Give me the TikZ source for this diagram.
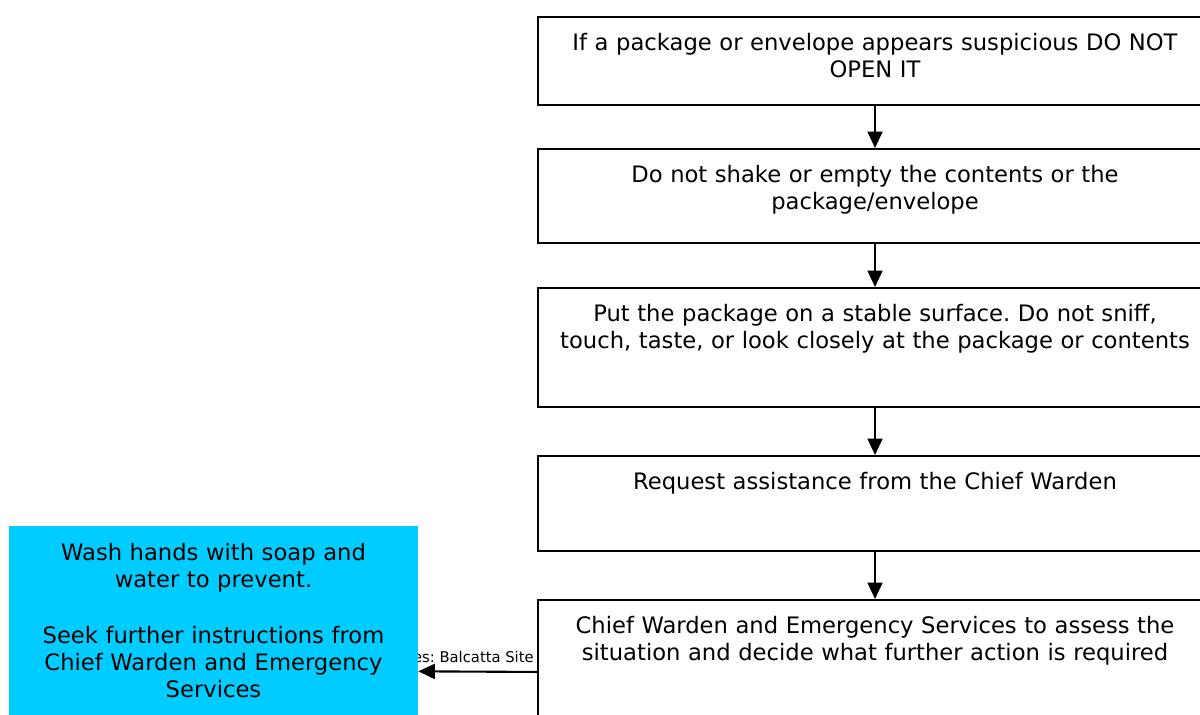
\documentclass[tikz,border=0pt]{standalone}
\usepackage{fontspec}
\setmainfont{DejaVu Sans}
\usetikzlibrary{arrows.meta}
\definecolor{washcyan}{HTML}{00CCFF}
\frenchspacing
\begin{document}
\begin{tikzpicture}[x=0.02cm, y=-0.02cm,
        stepbox/.style={draw, line width=1.1pt, anchor=north, inner xsep=0pt, inner ysep=0pt,
            text width=13.48cm, align=center, text height=0.68cm,
            font=\fontsize{12.9pt}{15.3pt}\selectfont},
        washbox/.style={fill=washcyan, anchor=north, inner xsep=0pt, inner ysep=0pt,
            text width=8.18cm, align=center, text height=0.68cm,
            font=\fontsize{12.9pt}{15.3pt}\selectfont},
        flow/.style={line width=1.2pt, -{Triangle[length=0.33cm, width=0.3cm]}}]
        \useasboundingbox (0,0) rectangle (1200,714);
        \node[stepbox, text depth=1.08cm] (open) at (875,16) {If a package or envelope appears suspicious DO NOT\\ OPEN IT};
        \node[stepbox, text depth=1.2cm] (shake) at (875,148) {Do not shake or empty the contents or the\\ package/envelope};
        \node[stepbox, text depth=1.7cm] (surface) at (875,287) {Put the package on a stable surface. Do not sniff,\\ touch, taste, or look closely at the package or contents};
        \node[stepbox, text depth=1.22cm] (warden) at (875,455) {Request assistance from the Chief Warden};
        \node[stepbox, text depth=2.2cm] (assess) at (875,599) {Chief Warden and Emergency Services to assess the\\ situation and decide what further action is required};
        \node[anchor=base east, inner sep=0pt, font=\fontsize{8.4pt}{10pt}\selectfont] (site) at (534,662) {res: Balcatta Site};
        \node[washbox, text depth=5.12cm] (wash) at (213.5,526) {Wash hands with soap and\\ water to prevent.\\[16.6pt] Seek further instructions from\\ Chief Warden and Emergency\\ Services};
        
        \draw[flow] (open) -- (shake);
        \draw[flow] (shake) -- (surface);
        \draw[flow] (surface) -- (warden);
        \draw[flow] (warden) -- (assess);
        \draw[flow] (assess.west) -- (wash.east);
    \end{tikzpicture}
\end{document}
